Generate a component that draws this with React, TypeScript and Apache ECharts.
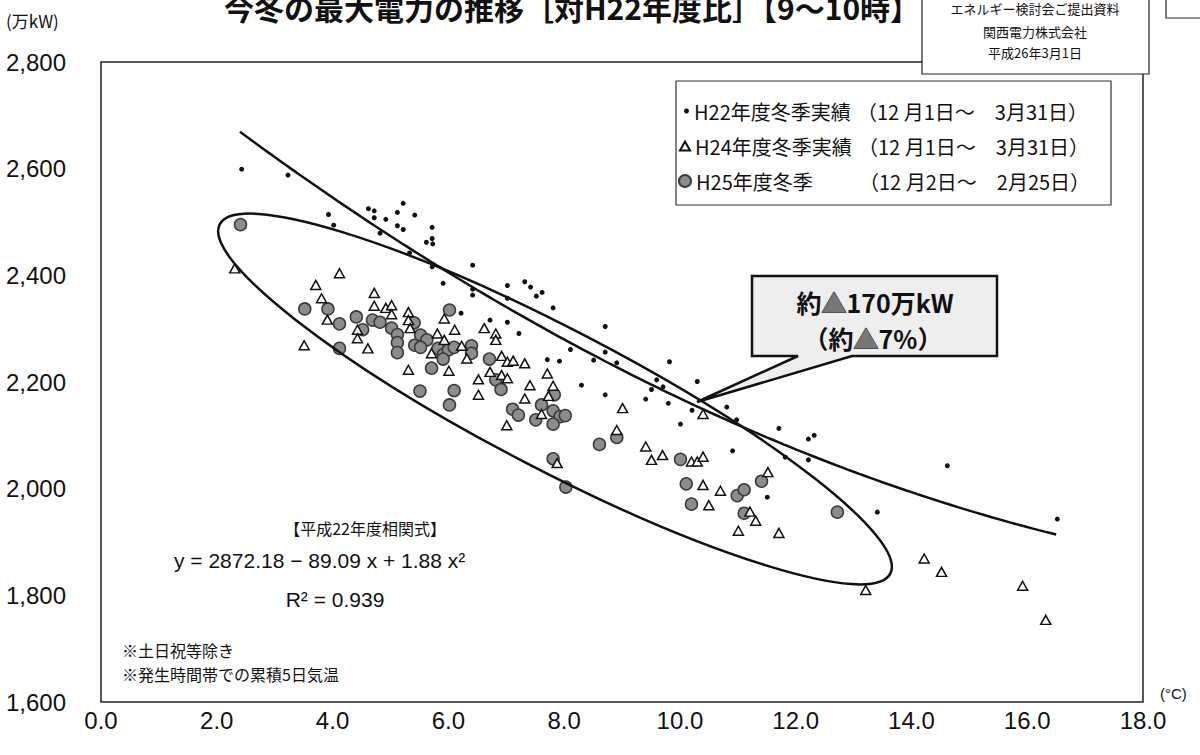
import React, { useEffect, useRef } from "react";
import * as echarts from "echarts";

// ---- data ----
const h22Temp = [2.43, 3.23, 3.93, 4.02, 4.62, 4.72, 4.72, 4.92, 5.12, 5.22, 5.42, 5.12, 5.22, 4.82, 5.72, 5.62, 5.72, 5.73, 5.33, 5.72, 6.42, 5.91, 6.42, 6.42, 7.02, 7.02, 7.32, 7.42, 7.52, 7.62, 7.81, 6.22, 6.72, 7.02, 7.22, 8.11, 7.71, 7.92, 8.51, 8.3, 8.71, 8.71, 8.91, 9.82, 8.71, 9.6, 9.71, 9.51, 9.41, 9.8, 10.3, 10.21, 10.01, 10.81, 10.98, 11.71, 12.22, 12.32, 10.91, 11.82, 12.22, 14.62, 11.51, 13.41, 16.52];
const h22Load = [2599, 2588, 2514, 2494, 2525, 2521, 2508, 2505, 2518, 2535, 2513, 2493, 2486, 2479, 2490, 2462, 2469, 2459, 2442, 2416, 2419, 2385, 2374, 2363, 2381, 2357, 2388, 2378, 2361, 2368, 2339, 2329, 2316, 2312, 2291, 2261, 2242, 2239, 2241, 2194, 2304, 2256, 2236, 2238, 2176, 2204, 2191, 2186, 2168, 2160, 2201, 2147, 2121, 2153, 2129, 2113, 2093, 2100, 2071, 2059, 2054, 2043, 1984, 1956, 1943];

const h24Temp = [2.31, 4.12, 3.71, 3.81, 3.91, 3.51, 4.72, 4.72, 4.92, 5.02, 5.02, 5.31, 5.93, 4.43, 4.43, 4.61, 5.31, 5.34, 6.11, 5.81, 5.71, 5.93, 6.23, 5.31, 6.01, 6.62, 6.82, 6.82, 6.32, 6.92, 7.02, 7.12, 7.32, 6.72, 6.92, 7.02, 6.52, 6.52, 7.41, 7.71, 7.81, 7.32, 7.73, 7.01, 7.61, 9.01, 10.4, 8.91, 9.41, 9.51, 9.7, 10.2, 10.3, 10.4, 10.4, 10.7, 10.5, 11.52, 11.21, 11.31, 11.01, 11.71, 13.21, 14.22, 14.52, 15.92, 16.32, 7.88];
const h24Load = [2413, 2404, 2382, 2357, 2317, 2269, 2367, 2343, 2339, 2344, 2327, 2331, 2319, 2298, 2282, 2263, 2316, 2301, 2298, 2291, 2254, 2279, 2268, 2223, 2221, 2301, 2291, 2279, 2244, 2249, 2238, 2240, 2235, 2219, 2213, 2207, 2205, 2176, 2194, 2216, 2193, 2169, 2174, 2119, 2140, 2151, 2140, 2110, 2079, 2054, 2063, 2051, 2051, 2060, 2007, 1996, 1969, 2031, 1957, 1940, 1921, 1917, 1810, 1869, 1844, 1818, 1754, 2048];

const h25Temp = [2.41, 3.52, 3.92, 4.12, 4.12, 4.41, 4.52, 4.69, 4.82, 5.02, 5.12, 5.12, 5.12, 5.41, 5.42, 5.52, 5.63, 5.52, 5.82, 5.91, 6.0, 6.1, 5.91, 6.02, 6.4, 6.4, 5.71, 6.71, 6.82, 6.91, 5.51, 6.1, 6.02, 7.11, 7.21, 7.61, 7.81, 7.93, 8.02, 7.81, 7.51, 7.83, 8.91, 8.61, 10.01, 10.11, 10.2, 10.99, 11.11, 11.41, 11.11, 12.72, 7.81, 8.03];
const h25Load = [2495, 2337, 2337, 2309, 2263, 2322, 2298, 2316, 2312, 2301, 2289, 2274, 2255, 2311, 2269, 2288, 2279, 2265, 2263, 2251, 2260, 2265, 2243, 2335, 2268, 2254, 2226, 2243, 2204, 2186, 2183, 2184, 2157, 2149, 2138, 2157, 2146, 2135, 2137, 2121, 2129, 2176, 2096, 2083, 2055, 2009, 1971, 1987, 1998, 2014, 1954, 1956, 2056, 2003];

// H22 correlation formula shown on the chart: y = 2872.18 - 89.09 x + 1.88 x^2
const fitA = 2872.18;
const fitB = -89.09;
const fitC = 1.88;
const fitFrom = 2.4;
const fitTo = 16.5;

const xTicks = { min: 0, max: 18, interval: 2 };
const yTicks = { min: 1600, max: 2800, interval: 200 };

const seriesNames = ["H22", "H24", "H25"];
const legendNames = ["H22年度冬季実績", "H24年度冬季実績", "H25年度冬季"];
const legendPeriods = ["（12 月1日～　3月31日）", "（12 月1日～　3月31日）", "（12 月2日～　2月25日）"];

const LATIN = '"Liberation Sans", Arial, "Noto Sans CJK JP", sans-serif';
const CJK = '"Noto Sans CJK JP", "Liberation Sans", sans-serif';

function zip(a: number[], b: number[]) {
  return a.map((v, i) => [v, b[i]]);
}

function fitCurve() {
  const pts: number[][] = [];
  const n = Math.round((fitTo - fitFrom) / 0.1);
  for (let i = 0; i <= n; i++) {
    const x = fitFrom + i * 0.1;
    pts.push([x, fitA + fitB * x + fitC * x * x]);
  }
  return pts;
}

function buildOption() {
  const legendIcon = [
    { w: 5, h: 5, left: 679 },
    { w: 10, h: 9, left: 674 },
    { w: 12, h: 12, left: 673 },
  ];
  const legendTops = [112, 147, 182];
  const legends = seriesNames.map((nm, i) => ({
    data: [nm],
    left: legendIcon[i].left,
    top: legendTops[i] - 16,
    itemWidth: legendIcon[i].w,
    itemHeight: legendIcon[i].h,
    selectedMode: false,
    formatter: () => `{n|${legendNames[i]}}{d|${legendPeriods[i]}}`,
    textStyle: {
      color: "#111",
      fontSize: 20,
      fontFamily: CJK,
      rich: {
        n: { width: 163, fontSize: 20, fontFamily: CJK, color: "#111" },
        d: { fontSize: 20, fontFamily: CJK, color: "#111" },
      },
    },
    z: 10,
  }));

  return {
    animation: false,
    backgroundColor: "#ffffff",
    grid: {
      left: 101,
      right: 57,
      top: 62,
      bottom: 53,
      show: true,
      borderColor: "#222",
      borderWidth: 1.5,
      backgroundColor: "transparent",
    },
    xAxis: {
      type: "value",
      min: xTicks.min,
      max: xTicks.max,
      interval: xTicks.interval,
      axisLine: { show: false },
      axisTick: { show: false },
      splitLine: { show: false },
      axisLabel: {
        formatter: (v: number) => v.toFixed(1),
        fontSize: 24,
        color: "#111",
        fontFamily: LATIN,
        margin: 6,
      },
    },
    yAxis: {
      type: "value",
      min: yTicks.min,
      max: yTicks.max,
      interval: yTicks.interval,
      axisLine: { show: false },
      axisTick: { show: false },
      splitLine: { show: false },
      axisLabel: {
        formatter: (v: number) => v.toLocaleString("en-US"),
        align: "left",
        margin: 95,
        fontSize: 24,
        color: "#111",
        fontFamily: LATIN,
      },
    },
    legend: legends,
    series: [
      {
        name: "H22",
        type: "scatter",
        data: zip(h22Temp, h22Load),
        symbol: "circle",
        symbolSize: 5,
        itemStyle: { color: "#111", opacity: 1 },
        z: 4,
      },
      {
        name: "H25",
        type: "scatter",
        data: zip(h25Temp, h25Load),
        symbol: "circle",
        symbolSize: 12,
        itemStyle: { color: "#8c8c8c", borderColor: "#3a3a3a", borderWidth: 1.5, opacity: 1 },
        z: 2,
      },
      {
        name: "H24",
        type: "scatter",
        data: zip(h24Temp, h24Load),
        symbol: "triangle",
        symbolSize: [10, 9],
        itemStyle: { color: "#ffffff", borderColor: "#111", borderWidth: 1.5, opacity: 1 },
        z: 3,
      },
      {
        name: "近似曲線",
        type: "line",
        data: fitCurve(),
        showSymbol: false,
        symbol: "none",
        silent: true,
        lineStyle: { color: "#111", width: 2.5 },
        z: 5,
      },
    ],
    graphic: [
      // title (cropped at the top of the page, as in the reference)
      {
        type: "text",
        x: 572,
        y: 7,
        z: 20,
        style: {
          text: "今冬の最大電力の推移［対H22年度比］【9～10時】",
          font: `bold 30px ${CJK}`,
          fill: "#111",
          align: "center",
          verticalAlign: "middle",
        },
      },
      // source box at top right
      {
        type: "rect",
        z: 20,
        shape: { x: 922, y: -5, width: 227, height: 79 },
        style: { fill: "#fff", stroke: "#222", lineWidth: 1.2 },
      },
      {
        type: "text",
        x: 1035,
        y: 8,
        z: 21,
        style: { text: "エネルギー検討会ご提出資料", font: `13px ${CJK}`, fill: "#111", align: "center", verticalAlign: "middle" },
      },
      {
        type: "text",
        x: 1035,
        y: 31,
        z: 21,
        style: { text: "関西電力株式会社", font: `13px ${CJK}`, fill: "#111", align: "center", verticalAlign: "middle" },
      },
      {
        type: "text",
        x: 1035,
        y: 52,
        z: 21,
        style: { text: "平成26年3月1日", font: `13px ${CJK}`, fill: "#111", align: "center", verticalAlign: "middle" },
      },
      {
        type: "polyline",
        z: 20,
        shape: { points: [[1166, -2], [1166, 18], [1202, 18]] },
        style: { stroke: "#222", lineWidth: 1.2, fill: "none" },
      },
      // units
      {
        type: "text",
        x: 6,
        y: 20,
        style: { text: "(万kW)", font: `17px ${CJK}`, fill: "#111", align: "left", verticalAlign: "middle" },
      },
      {
        type: "text",
        x: 1160,
        y: 693,
        style: { text: "(°C)", font: `15px ${LATIN}`, fill: "#111", align: "left", verticalAlign: "middle" },
      },
      // legend frame
      {
        type: "rect",
        z: 1,
        shape: { x: 676, y: 81, width: 435, height: 124 },
        style: { fill: "#fff", stroke: "#333", lineWidth: 1.2 },
      },
      // ellipse around H25 data
      {
        type: "ellipse",
        z: 6,
        x: 555,
        y: 399,
        rotation: (-27.5 * Math.PI) / 180,
        shape: { cx: 0, cy: 0, rx: 378, ry: 70 },
        style: { fill: "none", stroke: "#111", lineWidth: 2.5 },
      },
      // callout
      {
        type: "polygon",
        z: 7,
        shape: {
          points: [[752, 276], [997, 276], [997, 356], [852, 356], [697, 402], [798, 356], [752, 356]],
        },
        style: { fill: "#eeeeee", stroke: "#111", lineWidth: 2.5 },
      },
      {
        type: "text",
        x: 875,
        y: 302,
        z: 8,
        style: {
          text: "約{t|▲}170万kW",
          font: `bold 25px ${CJK}`,
          fill: "#111",
          align: "center",
          verticalAlign: "middle",
          rich: { t: { font: `bold 25px ${CJK}`, fill: "#777", stroke: "#111", lineWidth: 1 } },
        },
      },
      {
        type: "text",
        x: 873,
        y: 338,
        z: 8,
        style: {
          text: "（約{t|▲}7%）",
          font: `bold 25px ${CJK}`,
          fill: "#111",
          align: "center",
          verticalAlign: "middle",
          rich: { t: { font: `bold 25px ${CJK}`, fill: "#777", stroke: "#111", lineWidth: 1 } },
        },
      },
      // formula
      {
        type: "text",
        x: 365,
        y: 528,
        style: { text: "【平成22年度相関式】", font: `16px ${CJK}`, fill: "#111", align: "center", verticalAlign: "middle" },
      },
      {
        type: "text",
        x: 174,
        y: 560,
        style: { text: "y = 2872.18 − 89.09 x + 1.88 x²", font: `21px ${LATIN}`, fill: "#111", align: "left", verticalAlign: "middle" },
      },
      {
        type: "text",
        x: 335,
        y: 599,
        style: { text: "R² = 0.939", font: `21px ${LATIN}`, fill: "#111", align: "center", verticalAlign: "middle" },
      },
      // notes
      {
        type: "text",
        x: 122,
        y: 650,
        style: { text: "※土日祝等除き", font: `16px ${CJK}`, fill: "#111", align: "left", verticalAlign: "middle" },
      },
      {
        type: "text",
        x: 122,
        y: 674,
        style: { text: "※発生時間帯での累積5日気温", font: `16px ${CJK}`, fill: "#111", align: "left", verticalAlign: "middle" },
      },
    ],
  };
}

export default function App() {
  const ref = useRef<HTMLDivElement>(null);
  useEffect(() => {
    if (!ref.current) return;
    const chart = echarts.init(ref.current, null, { renderer: "svg" });
    chart.setOption(buildOption() as any);
    return () => chart.dispose();
  }, []);
  return (
    <div
      ref={ref}
      style={{ position: "absolute", left: 0, top: 0, width: 1200, height: 755, background: "#fff" }}
    />
  );
}
